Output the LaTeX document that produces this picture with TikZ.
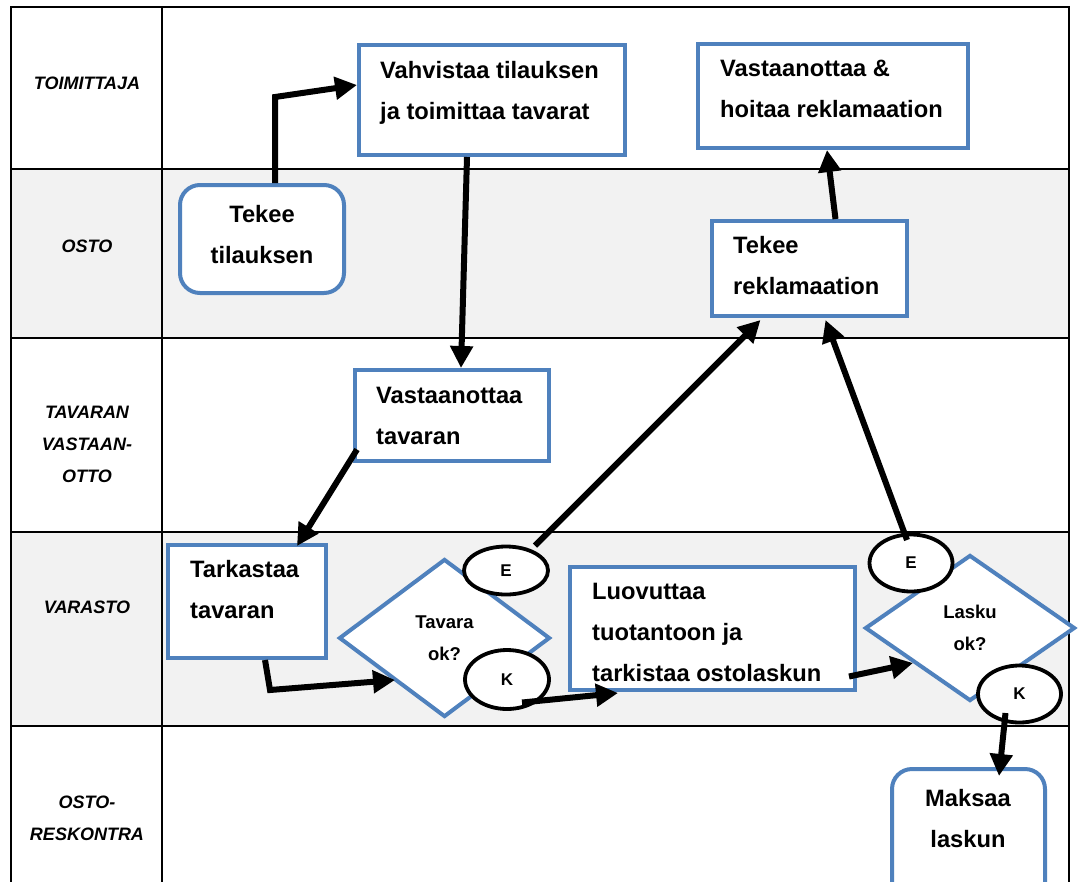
\documentclass[tikz,border=0pt]{standalone}
\usepackage{fontspec}
\setmainfont{Liberation Sans}
\usetikzlibrary{shapes.geometric,arrows.meta,calc}
\definecolor{boxblue}{HTML}{4F81BD}
\definecolor{lanegray}{HTML}{F2F2F2}
\begin{document}
\begin{tikzpicture}[x=1pt,y=-1pt,
  grid/.style={line width=2pt,draw=black},
  lane/.style={font=\fontsize{18}{32}\selectfont\bfseries\itshape,align=center,inner sep=0pt},
  box/.style={rectangle,draw=boxblue,line width=4pt,fill=white,inner sep=0pt},
  rbox/.style={box,rounded corners=20pt},
  dec/.style={diamond,draw=boxblue,line width=4pt,fill=white,inner sep=0pt,align=center,
    font=\fontsize{18.5}{32}\selectfont\bfseries},
  oval/.style={ellipse,draw=black,line width=3.8pt,fill=white,inner sep=0pt,
    font=\fontsize{17}{20}\selectfont\bfseries},
  txt/.style={font=\fontsize{23.7}{41}\selectfont\bfseries,align=left,inner sep=0pt},
  ctxt/.style={txt,align=center},
  arr/.style={line width=6pt,draw=black,-{Triangle[length=22pt,width=22pt]}}
]
\useasboundingbox (0,0) rectangle (1078,881);
\clip (0,0) rectangle (1078,881);
\fill[white] (0,0) rectangle (1078,881);
% lanes
\fill[lanegray] (11,169) rectangle (1069,338);
\fill[lanegray] (11,532) rectangle (1069,726);
\draw[grid] (11,895) -- (11,7) -- (1069,7) -- (1069,895);
\draw[grid] (162,7) -- (162,895);
\foreach \yy in {169,338,532,726} \draw[grid] (11,\yy) -- (1069,\yy);
% lane labels
\node[lane] (l1) at (87,83) {TOIMITTAJA};
\node[lane] (l2) at (87,246) {OSTO};
\node[lane] (l3) at (87,444.5) {TAVARAN\\VASTAAN-\\OTTO};
\node[lane] (l4) at (87,607) {VARASTO};
\node[lane] (l5) at (87,818) {OSTO-\\RESKONTRA};
% boxes
\node[box,minimum width=266,minimum height=110] (vahv) at (492,100) {};
\node[txt,anchor=north west] (vahvt) at (380,61) {Vahvistaa tilauksen\\ja toimittaa tavarat};
\node[box,minimum width=270,minimum height=104] (hoit) at (833,96) {};
\node[txt,anchor=north west] (hoitt) at (720,60) {Vastaanottaa \&\\hoitaa reklamaation};
\node[rbox,minimum width=164,minimum height=108] (tilaus) at (262,239) {};
\node[ctxt,anchor=north] (tilaust) at (262,205) {Tekee\\tilauksen};
\node[box,minimum width=195,minimum height=95] (rekl) at (809.5,268.5) {};
\node[txt,anchor=north west] (reklt) at (733,236) {Tekee\\reklamaation};
\node[box,minimum width=194,minimum height=91] (vtav) at (452,415.5) {};
\node[txt,anchor=north west] (vtavt) at (376,387) {Vastaanottaa\\tavaran};
\node[box,minimum width=158,minimum height=113] (tark) at (247,601.5) {};
\node[txt,anchor=north west] (tarkt) at (190,560) {Tarkastaa\\tavaran};
\node[box,minimum width=285,minimum height=123] (luov) at (712.5,628.5) {};
\node[txt,anchor=north west] (luovt) at (592,583) {Luovuttaa\\tuotantoon ja\\tarkistaa ostolaskun};
\node[rbox,minimum width=153,minimum height=134] (maks) at (968.5,836) {};
\node[ctxt,anchor=north] (makst) at (968,789) {Maksaa\\laskun};
% decisions
\node[dec,minimum width=211,minimum height=158] (tova) at (444.5,638) {Tavara\\ok?};
\node[dec,minimum width=210,minimum height=146] (laok) at (970,628) {Lasku\\ok?};
% E/K ovals
\node[oval,minimum width=84,minimum height=48] (e1) at (506,570.5) {E};
\node[oval,minimum width=84,minimum height=59] (k1) at (507,679.5) {K};
\node[oval,minimum width=83,minimum height=57] (e2) at (911,563) {E};
\node[oval,minimum width=83,minimum height=57] (k2) at (1019.5,694) {K};
% connectors
\draw[arr] ($(tilaus.north)+(13,0)$) -- ($(tilaus.north)+(13,-86)$) -- ($(vahv.west)+(0,-15)$);
\draw[arr] ($(vahv.south)+(-25,0)$) -- ($(vtav.north)+(9,0)$);
\draw[arr] ($(vtav.west)+(4,34)$) -- ($(tark.north)+(50,3)$);
\draw[arr] ($(tark.south)+(18,0)$) -- ++(5,30) -- ($(tova.west)+(58,42)$);
\draw[arr] ($(e1.center)+(29,-25)$) -- ($(rekl.south)+(-49,2)$);
\draw[arr] ($(k1.center)+(15,23)$) -- ($(luov.south west)+(50,1)$);
\draw[arr] ($(luov.east)+(-8,48)$) -- ($(laok.west)+(50,35)$);
\draw[arr] ($(e2.center)+(-4,-23)$) -- ($(rekl.south)+(16,2)$);
\draw[arr] ($(rekl.north)+(26,0)$) -- ($(hoit.south)+(-6,0)$);
\draw[arr] ($(k2.center)+(-14,19)$) -- ($(maks.north)+(30.5,9)$);
\end{tikzpicture}
\end{document}
